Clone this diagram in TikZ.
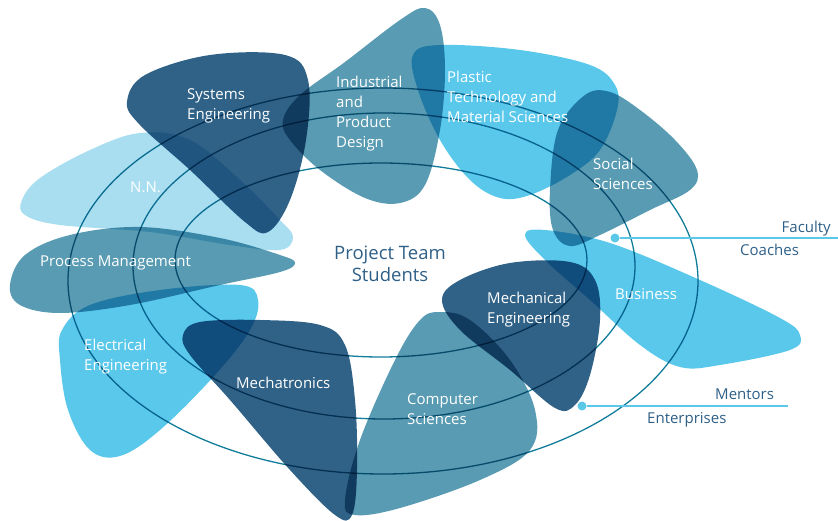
\documentclass[tikz,border=0pt]{standalone}
\usepackage{fontspec}
\setmainfont{Open Sans}
\definecolor{cdark}{RGB}{48,98,135}
\definecolor{cmid}{RGB}{88,155,178}
\definecolor{clight}{RGB}{90,200,235}
\definecolor{cpale}{RGB}{168,222,240}
\definecolor{cline}{RGB}{18,125,155}
\definecolor{cdot}{RGB}{92,200,232}
\definecolor{ctext}{RGB}{46,95,135}
\tikzset{
  blob/.style={blend mode=multiply},
  darkblob/.style={blob,fill=cdark},
  midblob/.style={blob,fill=cmid},
  lightblob/.style={blob,fill=clight},
  paleblob/.style={blob,fill=cpale},
  ring/.style={draw=cline,line width=1.3pt},
  lbl/.style={text=white,font=\fontsize{15}{20}\selectfont,align=left,anchor=north west,inner sep=0pt},
  side/.style={text=ctext,font=\fontsize{15}{20}\selectfont,inner sep=0pt},
  conn/.style={draw=cdot,line width=1.3pt},
  dotc/.style={circle,fill=cdot,inner sep=0pt,minimum size=9pt},
}
\begin{document}
\begin{tikzpicture}[x=1pt,y=-1pt]
\useasboundingbox (0,0) rectangle (838,521);
% rings
\draw[ring] (383,281) ellipse [x radius=315,y radius=193];
\draw[ring] (384,266) ellipse [x radius=251,y radius=153];
\draw[ring] (381,260) ellipse [x radius=206,y radius=97];
% blobs
\fill[paleblob] plot[smooth cycle,tension=0.6] coordinates {(22,200) (40,178) (90,150) (140,133) (190,140) (240,180) (280,220) (293,237) (280,250) (230,245) (150,232) (60,225) (25,215)};
\fill[darkblob] plot[smooth cycle,tension=0.6] coordinates {(127,102) (145,75) (210,55) (285,55) (308,80) (306,140) (290,200) (268,232) (245,222) (190,170) (140,125)};
\fill[midblob] plot[smooth cycle,tension=0.6] coordinates {(283,120) (300,95) (345,62) (400,20) (425,8) (440,25) (445,70) (440,130) (425,185) (400,203) (365,198) (320,170) (290,140)};
\fill[lightblob] plot[smooth cycle,tension=0.6] coordinates {(413,55) (440,45) (520,50) (590,65) (615,85) (617,110) (600,150) (570,175) (530,195) (500,198) (470,180) (440,140) (418,90)};
\fill[midblob] plot[smooth cycle,tension=0.6] coordinates {(585,95) (610,92) (640,110) (675,140) (697,170) (690,190) (650,210) (600,235) (570,246) (553,230) (550,190) (558,130)};
\fill[midblob] plot[smooth cycle,tension=0.6] coordinates {(10,285) (25,255) (70,235) (140,227) (220,238) (280,255) (295,263) (280,272) (220,285) (130,305) (60,313) (20,305)};
\fill[lightblob] plot[smooth cycle,tension=0.6] coordinates {(62,330) (90,305) (160,290) (240,285) (258,300) (250,330) (215,375) (160,430) (120,456) (90,450) (68,410) (60,360)};
\fill[darkblob] plot[smooth cycle,tension=0.6] coordinates {(183,335) (200,322) (260,320) (320,325) (345,345) (355,400) (357,470) (352,515) (335,515) (290,470) (230,400) (190,355)};
\fill[midblob] plot[smooth cycle,tension=0.6] coordinates {(420,320) (440,312) (470,320) (510,360) (535,410) (530,450) (480,480) (400,508) (355,515) (345,500) (360,440) (395,360)};
\fill[lightblob] plot[smooth cycle,tension=0.6] coordinates {(525,235) (545,230) (610,243) (700,280) (780,318) (800,335) (790,350) (720,365) (680,367) (640,345) (590,300) (545,260)};
\fill[darkblob] plot[smooth cycle,tension=0.6] coordinates {(442,300) (460,280) (510,263) (570,262) (595,280) (600,320) (590,375) (575,405) (555,408) (510,370) (460,330)};
% labels
\node[lbl] (sys) at (187,88) {Systems\\Engineering};
\node[lbl] (ind) at (336,76) {Industrial\\and\\Product\\Design};
\node[lbl] (pla) at (447,71) {Plastic\\Technology and\\Material Sciences};
\node[lbl] (soc) at (593,158) {Social\\Sciences};
\node[lbl] (nn) at (130,182) {N.N.};
\node[lbl] (pro) at (40,256) {Process Management};
\node[lbl] (bus) at (615,288) {Business};
\node[lbl] (mec) at (487,292) {Mechanical\\Engineering};
\node[lbl] (ele) at (84,339) {Electrical\\Engineering};
\node[lbl] (mtr) at (236,377) {Mechatronics};
\node[lbl] (com) at (407,393) {Computer\\Sciences};
\node[text=ctext,font=\fontsize{18.5}{22}\selectfont,align=center,inner sep=0pt,anchor=north] (team) at (390,246) {Project Team\\Students};
% connectors
\node[dotc] (d1) at (615,238) {};
\coordinate (e1) at (838,238);
\draw[conn] (d1) -- (e1);
\node[side,anchor=north east] (fac) at (831,221) {Faculty};
\node[side,anchor=north west] (coa) at (740,244) {Coaches};
\node[dotc] (d2) at (582,406) {};
\coordinate (e2) at (788,406);
\draw[conn] (d2) -- (e2);
\node[side,anchor=north west] (men) at (715,389) {Mentors};
\node[side,anchor=north west] (ent) at (647,412) {Enterprises};
\end{tikzpicture}
\end{document}
